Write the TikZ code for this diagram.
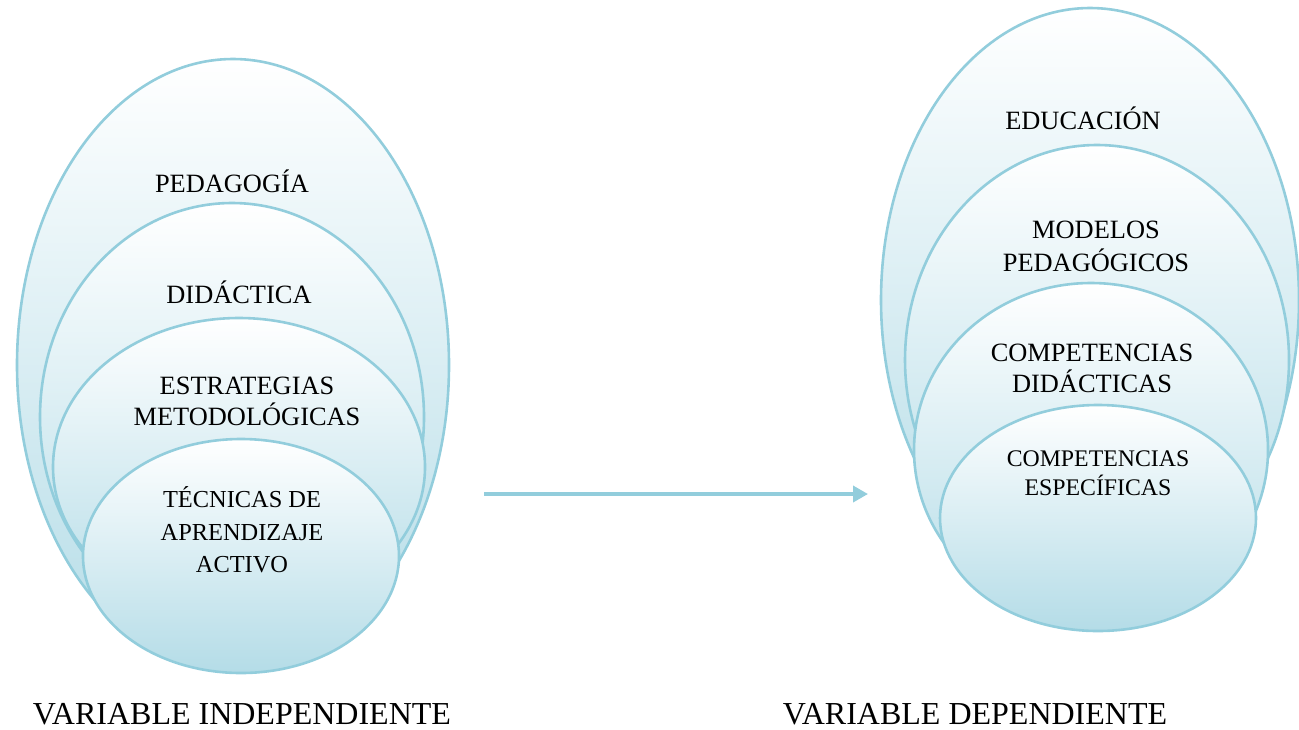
\documentclass[tikz,border=0pt]{standalone}
\usepackage{fontspec}
\setmainfont{Liberation Serif}
\usetikzlibrary{arrows.meta}
\definecolor{rimblue}{RGB}{146,205,220}
\definecolor{shadeblue}{RGB}{180,220,231}
\begin{document}
\begin{tikzpicture}[x=0.5pt,y=-0.5pt,
    layer/.style={draw=rimblue, line width=1.3pt, top color=white, middle color=shadeblue!25!white, bottom color=shadeblue},
    lbl/.style={align=center, inner sep=0pt, font=\fontsize{13.2}{15.5}\selectfont},
    bigtitle/.style={inner sep=0pt, font=\fontsize{16}{18}\selectfont}]
    \useasboundingbox (0,0) rectangle (1299,729);
    % variable independiente
    \draw[layer](233,365) ellipse [x radius=216, y radius=306];
    \draw[layer](232,417) ellipse [x radius=192, y radius=214];
    \draw[layer](239,467) ellipse [x radius=186, y radius=149];
    \draw[layer](241,556) ellipse [x radius=158, y radius=117];
    \node[lbl] (pedagogia) at (232,181) {PEDAGOGÍA};
    \node[lbl] (didactica) at (239,292) {DIDÁCTICA};
    \node[lbl] (estrategias) at (247,401) {ESTRATEGIAS\\METODOLÓGICAS};
    \node[lbl, font=\fontsize{12.2}{16.2}\selectfont] (tecnicas) at (242,530) {TÉCNICAS DE\\APRENDIZAJE\\ACTIVO};
    % variable dependiente
    \draw[layer](1090,300) ellipse [x radius=209, y radius=292];
    \draw[layer](1097,360) ellipse [x radius=192, y radius=215];
    \draw[layer](1091,450) ellipse [x radius=177, y radius=167];
    \draw[layer](1098,518) ellipse [x radius=158, y radius=113];
    \node[lbl] (educacion) at (1083,118) {EDUCACIÓN};
    \node[lbl, font=\fontsize{13.2}{16.5}\selectfont] (modelos) at (1096,246) {MODELOS\\PEDAGÓGICOS};
    \node[lbl] (compdid) at (1092,368) {COMPETENCIAS\\DIDÁCTICAS};
    \node[lbl, font=\fontsize{11.9}{14.5}\selectfont] (compesp) at (1098,473) {COMPETENCIAS\\ESPECÍFICAS};
    % flecha
    \coordinate (from) at (484,494);
    \coordinate (to) at (868,494);
    \draw[-{Triangle[length=7.5pt,width=8pt]}, rimblue, line width=1.8pt](from)--(to);
    \node[bigtitle] (indep) at (242,714) {VARIABLE INDEPENDIENTE};
    \node[bigtitle] (dep) at (975,714) {VARIABLE DEPENDIENTE};
\end{tikzpicture}
\end{document}
